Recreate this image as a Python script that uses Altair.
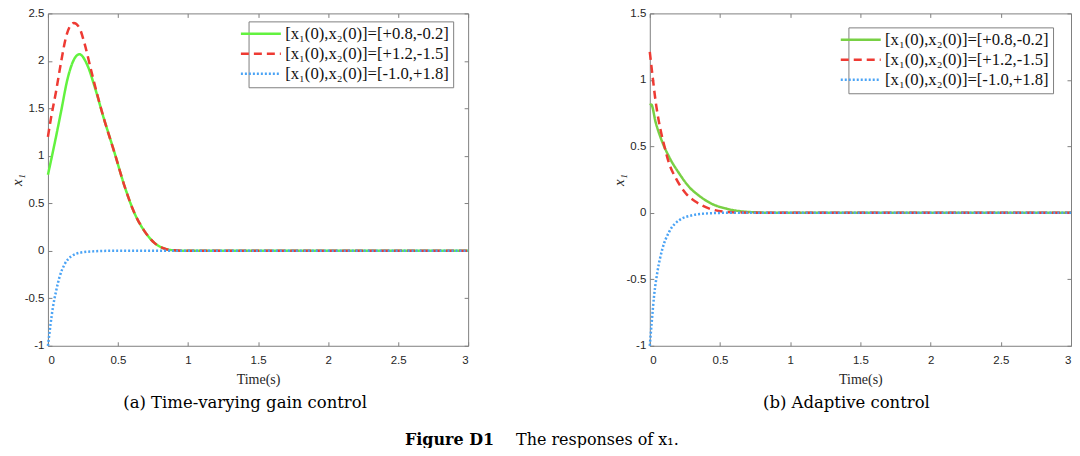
import altair as alt
import pandas as pd

labels = ["[x₁(0),x₂(0)]=[+0.8,-0.2]",
          "[x₁(0),x₂(0)]=[+1.2,-1.5]",
          "[x₁(0),x₂(0)]=[-1.0,+1.8]"]

x_ticks = [0, 0.5, 1, 1.5, 2, 2.5, 3]

# (a) Time-varying gain control
a_green_t = [0, 0.045, 0.093, 0.14, 0.188, 0.224, 0.283, 0.331, 0.40, 0.474, 0.545, 0.617, 0.688, 0.76, 0.83, 0.90, 1.0, 3.0]
a_green_v = [0.80, 1.11, 1.46, 1.81, 2.02, 2.07, 1.95, 1.74, 1.39, 1.04, 0.69, 0.40, 0.21, 0.084, 0.024, 0.005, 0.0, 0.0]
a_red_t = [0, 0.021, 0.057, 0.093, 0.129, 0.164, 0.185, 0.224, 0.26, 0.307, 0.355, 0.40, 0.474, 0.545, 0.617, 0.688, 0.76, 0.83, 0.90, 1.0, 3.0]
a_red_v = [1.20, 1.39, 1.67, 1.98, 2.25, 2.38, 2.40, 2.35, 2.19, 1.91, 1.63, 1.39, 1.04, 0.69, 0.40, 0.21, 0.084, 0.024, 0.005, 0.0, 0.0]
a_blue_t = [0, 0.005, 0.019, 0.035, 0.059, 0.082, 0.118, 0.165, 0.236, 0.33, 0.45, 3.0]
a_blue_v = [-1.0, -0.94, -0.77, -0.60, -0.42, -0.28, -0.145, -0.06, -0.018, -0.005, 0.0, 0.0]
a_y_ticks = [-1, -0.5, 0, 0.5, 1, 1.5, 2, 2.5]

# (b) Adaptive control
b_green_t = [0, 0.01, 0.042, 0.09, 0.138, 0.21, 0.28, 0.352, 0.447, 0.543, 0.638, 0.75, 0.9, 3.0]
b_green_v = [0.81, 0.815, 0.68, 0.53, 0.42, 0.295, 0.195, 0.128, 0.065, 0.032, 0.013, 0.004, 0.0, 0.0]
b_red_t = [0, 0.019, 0.042, 0.066, 0.102, 0.138, 0.186, 0.257, 0.328, 0.424, 0.52, 0.65, 0.8, 3.0]
b_red_v = [1.21, 1.035, 0.835, 0.68, 0.51, 0.37, 0.26, 0.145, 0.083, 0.032, 0.01, 0.002, 0.0, 0.0]
b_blue_t = [0, 0.014, 0.031, 0.055, 0.09, 0.138, 0.21, 0.305, 0.4, 0.55, 3.0]
b_blue_v = [-1.0, -0.82, -0.62, -0.44, -0.27, -0.143, -0.055, -0.018, -0.005, 0.0, 0.0]
b_y_ticks = [-1, -0.5, 0, 0.5, 1, 1.5]

a_colors = ["#62F23F", "#EE3A33", "#4AA3F5"]
b_colors = ["#78D044", "#EE3A33", "#4AA3F5"]
dashes = [[1, 0], [8, 5], [2, 2]]


def frame_df(ts, vs):
    rows = []
    for lab, t, v in zip(labels, ts, vs):
        for ti, vi in zip(t, v):
            rows.append({"series": lab, "t": ti, "v": vi})
    return pd.DataFrame(rows)


df_a = frame_df([a_green_t, a_red_t, a_blue_t], [a_green_v, a_red_v, a_blue_v])
df_b = frame_df([b_green_t, b_red_t, b_blue_t], [b_green_v, b_red_v, b_blue_v])

tick_style = dict(tickColor="#808080", tickSize=4, tickWidth=1, domain=False, grid=False,
                  labelFont="Liberation Sans", labelFontSize=11.5, labelColor="#262626",
                  minExtent=0)
lab_expr = "'' + datum.value"


def panel(df, ydom, yticks, colors, title, w, lx, ly, tdx):
    base = alt.Chart(df)
    leg = alt.Legend(title=None, orient="none", legendX=lx, legendY=ly,
                     fillColor="white", strokeColor="#808080", padding=4,
                     labelFont="Liberation Serif", labelFontSize=16.7, labelColor="#111111",
                     labelLimit=400, symbolType="M-3,0H3", symbolSize=178,
                     symbolStrokeWidth=2.5, rowPadding=2, labelOffset=16)
    lines = base.mark_line(strokeWidth=2.5, interpolate="monotone").encode(
        x=alt.X("t:Q", scale=alt.Scale(domain=[0, 3], nice=False, zero=False),
                axis=alt.Axis(orient="bottom", values=x_ticks, title="Time(s)", offset=-4,
                              labelPadding=9, labelExpr=lab_expr,
                              titleFont="Liberation Serif", titleFontSize=14,
                              titleFontWeight="normal", titleColor="#262626", titlePadding=6,
                              **tick_style)),
        y=alt.Y("v:Q", scale=alt.Scale(domain=ydom, nice=False, zero=False),
                axis=alt.Axis(orient="left", values=yticks, title="x₁", offset=-4,
                              labelPadding=4, labelExpr=lab_expr,
                              titleFont="Liberation Serif", titleFontSize=15,
                              titleFontStyle="italic", titleFontWeight="normal",
                              titleColor="#262626", titlePadding=0, **tick_style)),
        color=alt.Color("series:N", scale=alt.Scale(domain=labels, range=colors), legend=leg),
        strokeDash=alt.StrokeDash("series:N", scale=alt.Scale(domain=labels, range=dashes), legend=leg),
    )
    box = base.mark_point(opacity=0, size=1).encode(
        x=alt.X("t:Q", axis=alt.Axis(orient="top", values=x_ticks, labels=False, title=None,
                                     offset=-4, **tick_style)),
        y=alt.Y("v:Q", axis=alt.Axis(orient="right", values=yticks, labels=False, title=None,
                                     offset=-4, **tick_style)),
    )
    return alt.layer(lines, box).resolve_axis(x="independent", y="independent").properties(
        width=w, height=333,
        title=alt.TitleParams(text=title, orient="bottom", font="DejaVu Serif", fontSize=16.5,
                              fontWeight="normal", color="black", offset=9, dx=tdx),
    )


left = panel(df_a, [-1, 2.5], a_y_ticks, a_colors, "(a) Time-varying gain control", 421, 201, 8, -13)
right = panel(df_b, [-1, 1.5], b_y_ticks, b_colors, "(b) Adaptive control", 422, 199, 14, -14)

top = alt.hconcat(left, right, spacing=182, bounds="flush").resolve_scale(
    color="independent", strokeDash="independent")

cap_df = pd.DataFrame({"k": [0]})
cap1 = alt.Chart(cap_df).mark_text(font="DejaVu Serif", fontSize=16, fontWeight="bold",
                                   align="right", baseline="middle", color="black").encode(
    x=alt.value(447), y=alt.value(6), text=alt.value("Figure D1"))
cap2 = alt.Chart(cap_df).mark_text(font="DejaVu Serif", fontSize=16, fontWeight="normal",
                                   align="left", baseline="middle", color="black").encode(
    x=alt.value(469), y=alt.value(6), text=alt.value("The responses of x₁."))
caption = alt.layer(cap1, cap2).properties(width=900, height=12,
                                           view=alt.ViewBackground(strokeOpacity=0))

chart = alt.vconcat(top, caption, spacing=19).properties(
    padding={"left": 0, "top": -2, "right": -5, "bottom": 0}).configure_view(
    stroke="#808080", strokeWidth=1)

chart.save("out.html", embed_options={"renderer": "svg", "actions": False})
